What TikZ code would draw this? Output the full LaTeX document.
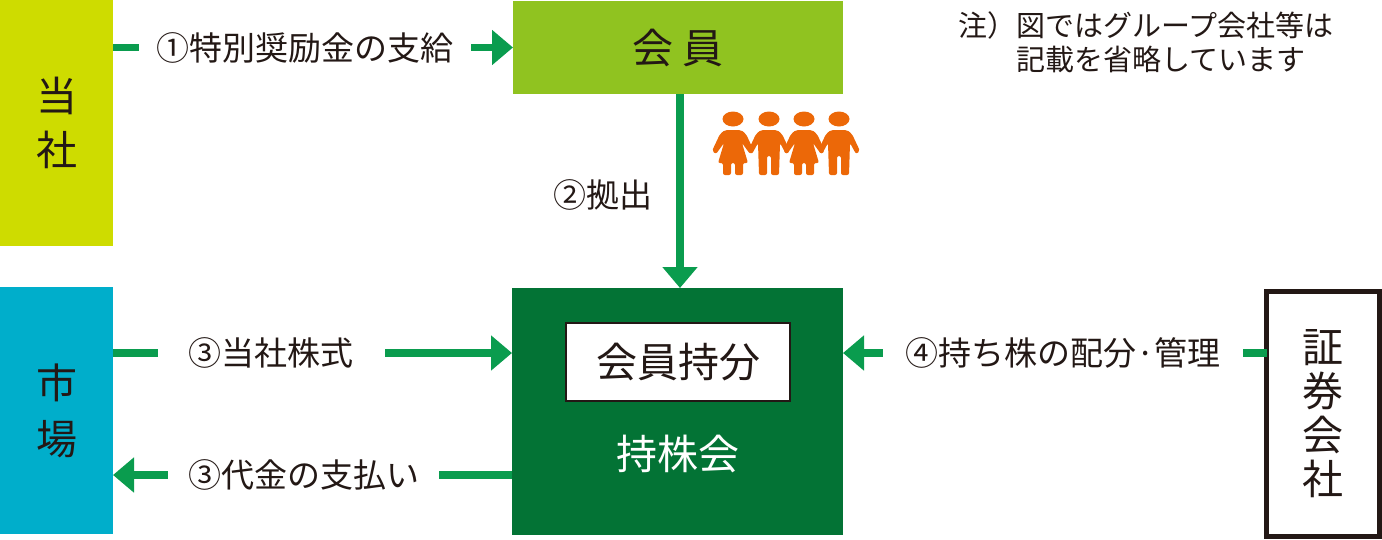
\documentclass[tikz,border=0pt]{standalone}
\usepackage{fontspec}
\setmainfont{Noto Sans CJK JP}
\usetikzlibrary{arrows.meta,positioning}
\definecolor{lime}{RGB}{206,220,0}
\definecolor{leaf}{RGB}{144,195,32}
\definecolor{sky}{RGB}{0,174,203}
\definecolor{forest}{RGB}{3,115,53}
\definecolor{flow}{RGB}{10,156,78}
\definecolor{people}{RGB}{236,104,8}
\definecolor{ink}{RGB}{35,24,21}

\begin{document}
\begin{tikzpicture}[x=1pt,y=-1pt]

		\def\big{\fontsize{41}{44}\selectfont}
		\def\small{\fontsize{33}{36}\selectfont}

		\tikzset{box/.style={shape=rectangle,inner sep=0pt,outer sep=0pt,text=ink,font=\big,align=center}}
		\tikzset{arrow/.style={draw=flow,line width=7.5pt,-{Triangle[width=34pt,length=21pt]}}}
		\tikzset{tag/.style={fill=white,text=ink,font=\small,inner ysep=0pt}}

		% Person: head and body, with skirt or trousers
		\tikzset{pics/man/.style={code={%
							\fill[people] (0,0) ellipse (10.5 and 7.5);
							\fill[people,rounded corners=2pt] (-8,11) -- (8,11) -- (13,15) -- (21,32) -- (17,35) -- (11,24) -- (10,56) -- (2,56) -- (2,37) -- (-2,37) -- (-2,56) -- (-10,56) -- (-11,24) -- (-17,35) -- (-21,32) -- (-13,15) -- cycle;
						}}}
		\tikzset{pics/woman/.style={code={%
							\fill[people] (0,0) ellipse (10.5 and 7.5);
							\fill[people,rounded corners=2pt] (-8,11) -- (8,11) -- (13,15) -- (21,32) -- (17,35) -- (9,24) -- (15,44) -- (10,44) -- (10,56) -- (2,56) -- (2,44) -- (-2,44) -- (-2,56) -- (-10,56) -- (-10,44) -- (-15,44) -- (-9,24) -- (-17,35) -- (-21,32) -- (-13,15) -- cycle;
						}}}

		\useasboundingbox (0,0) rectangle (1382,539);

		\node[box,fill=lime,minimum width=113pt,minimum height=246pt] (tosha) at (56.5,123) {当\\[10pt]社};
		\node[box,fill=leaf,minimum width=330pt,minimum height=93pt] (kaiin) at (678,47.5) {会 員};
		\node[box,fill=sky,minimum width=113pt,minimum height=247pt] (shijo) at (56.5,410.5) {市\\[12pt]場};
		\node[box,fill=forest,minimum width=331pt,minimum height=247pt] (mochikabukai) at (677.5,411.5) {};
		\node[box,draw=ink,fill=white,line width=2pt,minimum width=224pt,minimum height=78pt] (mochibun) at (678,362) {会員持分};
		\node[box,text=white,below=34pt of mochibun] (kainame) {持株会};
		\node[box,draw=ink,fill=white,line width=5pt,minimum width=113pt,minimum height=245pt] (shoken) at (1323,413.5) {証\\券\\会\\社};

		\node[text=ink,font=\fontsize{29}{34}\selectfont,align=left,inner sep=0pt,anchor=north west] (chu) at (958,11) {注）図ではグループ会社等は\\\hspace*{2em}記載を省略しています};

		\coordinate (kabu) at (512,353);
		\coordinate (daikin) at (512,475);
		\coordinate (haibun) at (843,353);
		\coordinate (kyoshutsu) at (680,288);

		\draw[arrow] (tosha.east |- kaiin.west) -- node[tag,pos=0.48,inner xsep=17pt] {①特別奨励金の支給} (kaiin.west);
		\draw[arrow] (kaiin.south -| kyoshutsu) -- node[pos=0.52,left=24pt,text=ink,font=\small,inner sep=0pt] (kyo) {②拠出} (kyoshutsu);
		\draw[arrow] (shijo.east |- kabu) -- node[tag,pos=0.396,inner xsep=31pt] {③当社株式} (kabu);
		\draw[arrow] (daikin) -- node[tag,pos=0.522,inner xsep=20pt] {③代金の支払い} (shijo.east |- daikin);
		\draw[arrow] (shoken.west |- haibun) -- node[tag,pos=0.481,inner xsep=22pt] {④持ち株の配分·管理} (haibun);

		\pic at (733,119) {woman};
		\pic at (769,119) {man};
		\pic at (804,119) {woman};
		\pic at (839,119) {man};

	\end{tikzpicture}
\end{document}
